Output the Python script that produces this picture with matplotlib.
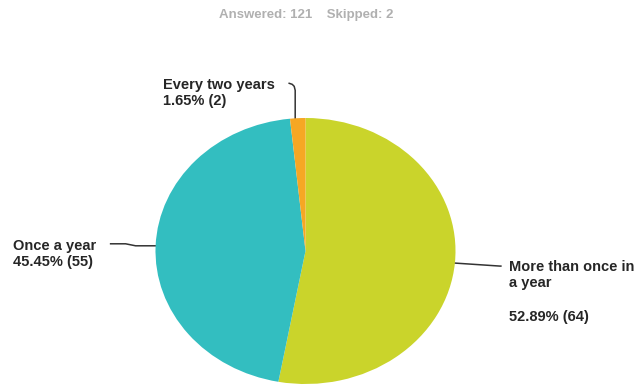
import numpy as np
import matplotlib.pyplot as plt

# --- Survey responses ---
categories = ['More than once in\na year', 'Once a year', 'Every two years']
percents = [52.89, 45.45, 1.65]
counts = [64, 55, 2]
colors = ['#cad42b', '#33bec0', '#f6a724']
answered = 121
skipped = 2

W, H = 639, 387
fig = plt.figure(figsize=(W / 100, H / 100), dpi=100)

# overlay axes in pixel coords (origin top-left) for text and leader lines
ax = fig.add_axes([0, 0, 1, 1])
ax.set_xlim(0, W)
ax.set_ylim(H, 0)
ax.axis('off')

# pie geometry (pixels)
cx, cy, rx, ry = 305.5, 251, 150, 133
pax = fig.add_axes([(cx - rx) / W, 1 - (cy + ry) / H, 2 * rx / W, 2 * ry / H])
wedges, _ = pax.pie(percents, colors=colors, startangle=90, counterclock=False,
                    wedgeprops=dict(linewidth=0))
pax.set_aspect('auto')
pax.set_xlim(-1, 1)
pax.set_ylim(-1, 1)
pax.axis('off')


def edge_point(theta):
    t = np.deg2rad(theta)
    return cx + rx * np.cos(t), cy - ry * np.sin(t)


font = dict(family='Liberation Sans', fontweight='bold', fontsize=10.5, color='#262626')
line_kw = dict(color='#333333', lw=1.1)

# More than once in a year
w = wedges[0]
x0, y0 = edge_point((w.theta1 + w.theta2) / 2)
ax.plot([x0, x0 + 45, x0 + 46], [y0, y0 + 3, y0 + 3], **line_kw)
ax.text(509, 260, categories[0], va='top', ha='left', linespacing=1.2, **font)
ax.text(509, 317, f'{percents[0]:.2f}% ({counts[0]})', va='center', ha='left', **font)

# Once a year
w = wedges[1]
x0, y0 = edge_point((w.theta1 + w.theta2) / 2)
ax.plot([x0, x0 - 20, x0 - 30, x0 - 45], [y0, y0, y0 - 2, y0 - 2], **line_kw)
ax.text(13, 254, f'{categories[1]}\n{percents[1]:.2f}% ({counts[1]})',
        va='center', ha='left', linespacing=1.15, **font)

# Every two years
w = wedges[2]
x0, y0 = edge_point(w.theta2 - 2)
ax.plot([x0, x0, x0 - 1, x0 - 3, x0 - 6], [y0, y0 - 28, y0 - 32, y0 - 34, y0 - 35], **line_kw)
ax.text(163, 93, f'{categories[2]}\n{percents[2]:.2f}% ({counts[2]})',
        va='center', ha='left', linespacing=1.15, **font)

ax.text(306, 15, f'Answered: {answered}    Skipped: {skipped}', ha='center', va='center',
        family='Liberation Sans', fontweight='bold', fontsize=9.5, color='#b0b0b0')

fig.savefig('out.png', dpi=100)
